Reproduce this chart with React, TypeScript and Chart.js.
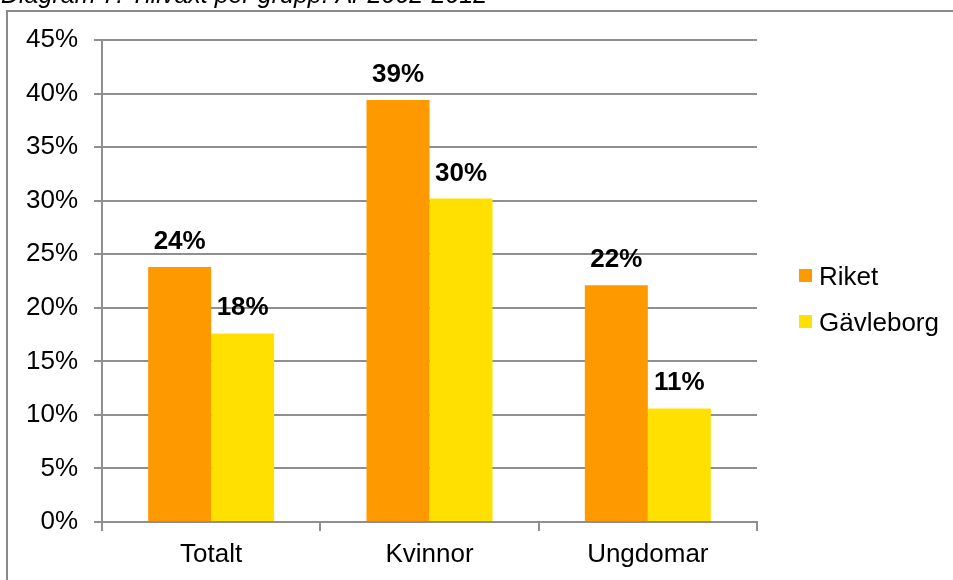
import React, { useEffect, useRef } from "react";
import { Chart, registerables } from "chart.js";

Chart.register(...registerables);

const titleText = "Diagram 7. Tillväxt per grupp. År 2002-2012";
const categories = ["Totalt", "Kvinnor", "Ungdomar"];
const seriesNames = ["Riket", "Gävleborg"];
const riket = [23.8, 39.4, 22.1];
const gavleborg = [17.6, 30.2, 10.6];
const seriesColors = ["#FF9900", "#FFE000"];
const yMin = 0;
const yMax = 45;
const yStep = 5;

const FONT = '"Liberation Sans", Arial, sans-serif';
const GRID = "#8f8f8f";

const framePlugin = {
  id: "framePlugin",
  beforeDraw(chart: any) {
    const ctx = chart.ctx;
    ctx.save();
    ctx.strokeStyle = "#8a8a8a";
    ctx.lineWidth = 2;
    ctx.beginPath();
    ctx.moveTo(7, chart.height + 5);
    ctx.lineTo(7, 11);
    ctx.lineTo(chart.width + 5, 11);
    ctx.stroke();
    ctx.fillStyle = "#000";
    ctx.font = `italic 25px ${FONT}`;
    ctx.textAlign = "left";
    ctx.textBaseline = "alphabetic";
    ctx.fillText(titleText, 1, 3);
    ctx.restore();
  },
};

const labelPlugin = {
  id: "labelPlugin",
  afterDatasetsDraw(chart: any) {
    const ctx = chart.ctx;
    ctx.save();
    ctx.fillStyle = "#000";
    ctx.font = `bold 26px ${FONT}`;
    ctx.textAlign = "center";
    ctx.textBaseline = "alphabetic";
    chart.data.datasets.forEach((ds: any, i: number) => {
      const meta = chart.getDatasetMeta(i);
      meta.data.forEach((el: any, j: number) => {
        ctx.fillText(Math.round(ds.data[j]) + "%", el.x, el.y - 18);
      });
    });
    ctx.restore();
  },
};

const legendPlugin = {
  id: "legendPlugin",
  afterDraw(chart: any) {
    const ctx = chart.ctx;
    ctx.save();
    ctx.font = `26px ${FONT}`;
    ctx.textAlign = "left";
    ctx.textBaseline = "alphabetic";
    const x0 = chart.chartArea.right + 42;
    const baseY = 285;
    const step = 46;
    chart.data.datasets.forEach((ds: any, i: number) => {
      const by = baseY + i * step;
      ctx.fillStyle = ds.backgroundColor;
      ctx.fillRect(x0, by - 16, 13, 13);
      ctx.fillStyle = "#000";
      ctx.fillText(ds.label, x0 + 20, by);
    });
    ctx.restore();
  },
};

export default function App() {
  const ref = useRef<HTMLCanvasElement | null>(null);

  useEffect(() => {
    if (!ref.current) return;
    const chart = new Chart(ref.current, {
      type: "bar",
      data: {
        labels: categories,
        datasets: [
          {
            label: seriesNames[0],
            data: riket,
            backgroundColor: seriesColors[0],
            categoryPercentage: 0.577,
            barPercentage: 1,
          },
          {
            label: seriesNames[1],
            data: gavleborg,
            backgroundColor: seriesColors[1],
            categoryPercentage: 0.577,
            barPercentage: 1,
          },
        ],
      },
      options: {
        animation: false,
        responsive: false,
        maintainAspectRatio: false,
        layout: { padding: { top: 40, left: 0, right: 196, bottom: 0 } },
        plugins: {
          legend: { display: false },
          title: { display: false },
          tooltip: { enabled: false },
        },
        scales: {
          x: {
            offset: true,
            grid: {
              offset: true,
              drawOnChartArea: false,
              drawTicks: true,
              tickLength: 9,
              color: GRID,
              lineWidth: 2,
            },
            border: { display: true, color: GRID, width: 2 },
            ticks: {
              color: "#000",
              font: { family: FONT, size: 26 },
              padding: 8,
              maxRotation: 0,
            },
            afterFit(scale: any) {
              scale.height = 58;
            },
          },
          y: {
            min: yMin,
            max: yMax,
            grid: {
              color: GRID,
              lineWidth: 2,
              drawTicks: true,
              tickLength: 8,
            },
            border: { display: true, color: GRID, width: 2 },
            ticks: {
              stepSize: yStep,
              color: "#000",
              font: { family: FONT, size: 26 },
              padding: 16,
              callback: (v: any) => v + "%",
            },
            afterFit(scale: any) {
              scale.width = 102;
            },
          },
        },
      },
      plugins: [framePlugin, labelPlugin, legendPlugin],
    });
    return () => chart.destroy();
  }, []);

  return (
    <div style={{ position: "fixed", left: 0, top: 0, width: 953, height: 580, background: "#fff" }}>
      <canvas ref={ref} width={953} height={580} style={{ display: "block" }} />
    </div>
  );
}
